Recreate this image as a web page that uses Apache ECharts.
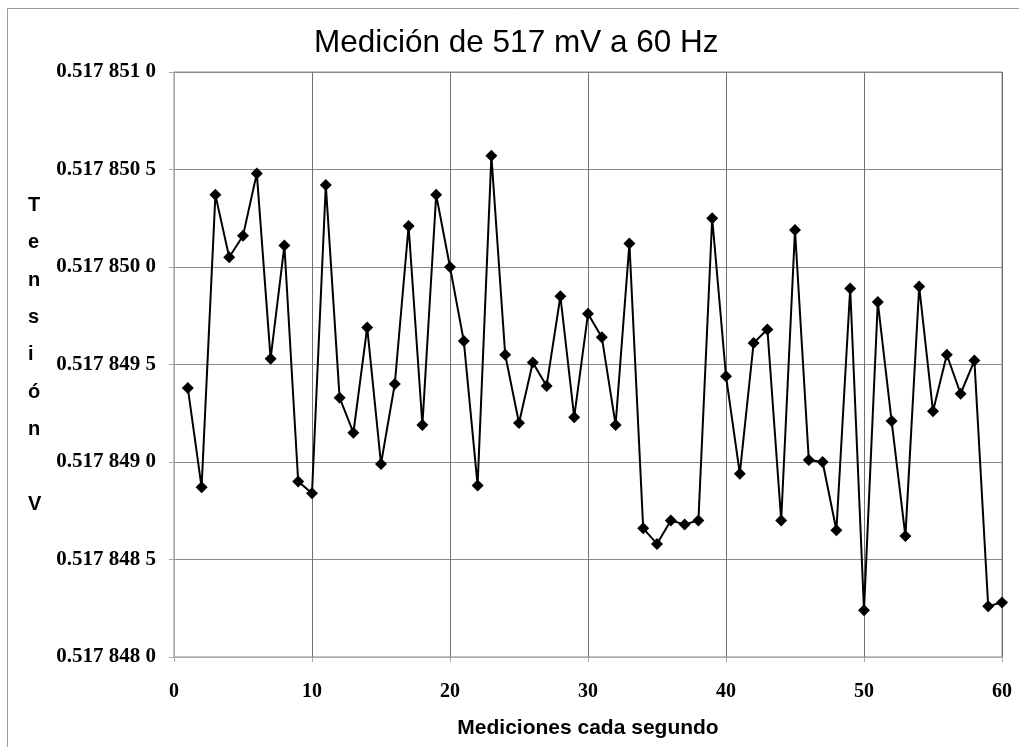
<!DOCTYPE html>
<html>
<head>
<meta charset="utf-8">
<script src="https://cdn.jsdelivr.net/npm/echarts@6/dist/echarts.min.js"></script>
<style>
html,body{margin:0;padding:0;background:#fff;}
#chart{width:1019px;height:747px;}
</style>
</head>
<body>
<div id="chart"></div>
<script>
const titleText = 'Medición de 517 mV a 60 Hz';
const xAxisName = 'Mediciones cada segundo';
const yAxisName = 'T\ne\nn\ns\ni\nó\nn\n\nV';
const seconds = [1,2,3,4,5,6,7,8,9,10,11,12,13,14,15,16,17,18,19,20,21,22,23,24,25,26,27,28,29,30,31,32,33,34,35,36,37,38,39,40,41,42,43,44,45,46,47,48,49,50,51,52,53,54,55,56,57,58,59,60];
const voltage = [
  0.51784938, 0.51784887, 0.51785037, 0.51785005, 0.51785016, 0.51785048, 0.51784953, 0.51785011, 0.51784890, 0.51784884,
  0.51785042, 0.51784933, 0.51784915, 0.51784969, 0.51784899, 0.51784940, 0.51785021, 0.51784919, 0.51785037, 0.51785000,
  0.51784962, 0.51784888, 0.51785057, 0.51784955, 0.51784920, 0.51784951, 0.51784939, 0.51784985, 0.51784923, 0.51784976,
  0.51784964, 0.51784919, 0.51785012, 0.51784866, 0.51784858, 0.51784870, 0.51784868, 0.51784870, 0.51785025, 0.51784944,
  0.51784894, 0.51784961, 0.51784968, 0.51784870, 0.51785019, 0.51784901, 0.51784900, 0.51784865, 0.51784989, 0.51784824,
  0.51784982, 0.51784921, 0.51784862, 0.51784990, 0.51784926, 0.51784955, 0.51784935, 0.51784952, 0.51784826, 0.51784828
];
const yMin = 0.517848, yMax = 0.517851, yStep = 0.0000005;
const xMin = 0, xMax = 60, xStep = 10;

function fmtY(v){
  const s = v.toFixed(7); // 0.5178510
  return s.slice(0,5) + ' ' + s.slice(5,8) + ' ' + s.slice(8);
}

const chart = echarts.init(document.getElementById('chart'), null, {renderer:'canvas'});
chart.setOption({
  animation:false,
  backgroundColor:'#fff',
  title:{
    text:titleText, left:309, top:22,
    textStyle:{fontFamily:'Liberation Sans, Arial, sans-serif', fontWeight:'normal', fontSize:31.5, color:'#000'}
  },
  graphic:[
    {type:'rect', shape:{x:7.5,y:8.5,width:1040,height:780}, style:{fill:'none', stroke:'#9a9a9a', lineWidth:1}, silent:true, z:-10},
    {type:'text', left:28, top:187, style:{text:yAxisName, font:'bold 20px "Liberation Sans", Arial, sans-serif', lineHeight:37.3, fill:'#000', align:'center'}}
  ],
  grid:{left:174, right:17, top:72, bottom:90, show:true, borderColor:'#8a8a8a', borderWidth:1},
  xAxis:{
    type:'value', min:xMin, max:xMax, interval:xStep,
    name:xAxisName, nameLocation:'middle', nameGap:61,
    nameTextStyle:{fontFamily:'Liberation Sans, Arial, sans-serif', fontWeight:'bold', fontSize:21, color:'#000'},
    axisLine:{show:true, lineStyle:{color:'#a8a8a8', width:1}},
    axisTick:{show:true, inside:false, length:5, lineStyle:{color:'#a8a8a8'}},
    axisLabel:{margin:25, fontFamily:'Liberation Serif, Times New Roman, serif', fontWeight:'bold', fontSize:20, color:'#000'},
    splitLine:{show:true, lineStyle:{color:'#707070', width:1}}
  },
  yAxis:{
    type:'value', min:yMin, max:yMax, interval:yStep,
    axisLine:{show:true, lineStyle:{color:'#a8a8a8', width:1}},
    axisTick:{show:true, inside:false, length:5, lineStyle:{color:'#a8a8a8'}},
    axisLabel:{margin:18, formatter:fmtY, fontFamily:'Liberation Serif, Times New Roman, serif', fontWeight:'bold', fontSize:21, color:'#000'},
    splitLine:{show:true, lineStyle:{color:'#8a8a8a', width:1}}
  },
  series:[{
    type:'line',
    data: seconds.map((s,i)=>[s, voltage[i]]),
    symbol:'diamond', symbolSize:12,
    itemStyle:{color:'#000'},
    lineStyle:{color:'#000', width:2},
    z:5
  }]
});
</script>
</body>
</html>
